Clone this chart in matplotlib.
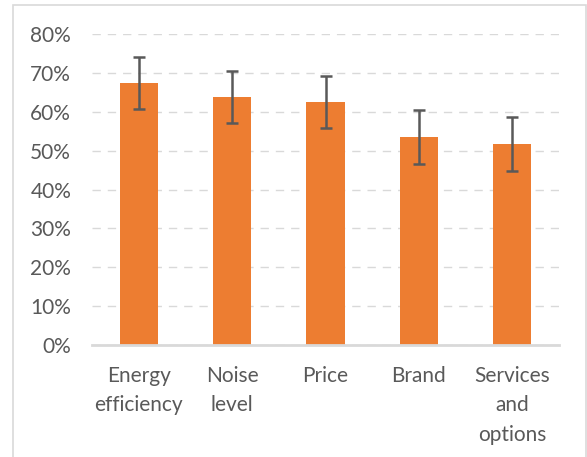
import matplotlib
matplotlib.use("Agg")
import matplotlib.pyplot as plt
from matplotlib.patches import Rectangle
from matplotlib.ticker import PercentFormatter

plt.rcParams["font.family"] = ["Lato", "DejaVu Sans"]

# Importance of purchase criteria (share of respondents) with error margins
categories = ["Energy\nefficiency", "Noise\nlevel", "Price", "Brand", "Services\nand\noptions"]
shares = [67.4, 63.8, 62.4, 53.5, 51.7]
errors = [6.6, 6.7, 6.7, 6.9, 6.9]

BAR_COLOR = "#ED7D31"
TEXT_COLOR = "#595959"
GRID_COLOR = "#D9D9D9"

fig = plt.figure(figsize=(5.87, 4.57), dpi=100)
ax = fig.add_axes([92 / 587, 1 - 345 / 457, 467 / 587, 311 / 457])

# light border around the chart area
fig.patches.append(Rectangle((13 / 587, -0.01), 573 / 587, 1 - 5 / 457 + 0.01,
                             transform=fig.transFigure, fill=False,
                             edgecolor="#D9D9D9", linewidth=1.2))

x = range(len(categories))
ax.bar(x, shares, width=0.41, color=BAR_COLOR, zorder=3)
ax.errorbar(x, shares, yerr=errors, fmt="none", ecolor=TEXT_COLOR,
            elinewidth=1.8, capsize=4, capthick=1.8, zorder=4)

ax.set_xlim(-0.5, len(categories) - 0.5)
ax.set_ylim(0, 80)
ax.set_yticks(range(0, 81, 10))
ax.yaxis.set_major_formatter(PercentFormatter(decimals=0))
ax.set_xticks(list(x))
ax.set_xticklabels(categories, linespacing=1.6)

ax.grid(axis="y", color=GRID_COLOR, linestyle=(0, (6, 5)), linewidth=1, zorder=0)
for s in ["top", "right", "left"]:
    ax.spines[s].set_visible(False)
ax.spines["bottom"].set_color(GRID_COLOR)
ax.spines["bottom"].set_linewidth(2)
ax.spines["bottom"].set_zorder(5)

ax.tick_params(axis="both", length=0, labelsize=15, labelcolor=TEXT_COLOR)
ax.tick_params(axis="y", pad=15)
ax.tick_params(axis="x", pad=15)
for lbl in ax.get_xticklabels():
    lbl.set_verticalalignment("top")

fig.savefig("out.png", dpi=100)
